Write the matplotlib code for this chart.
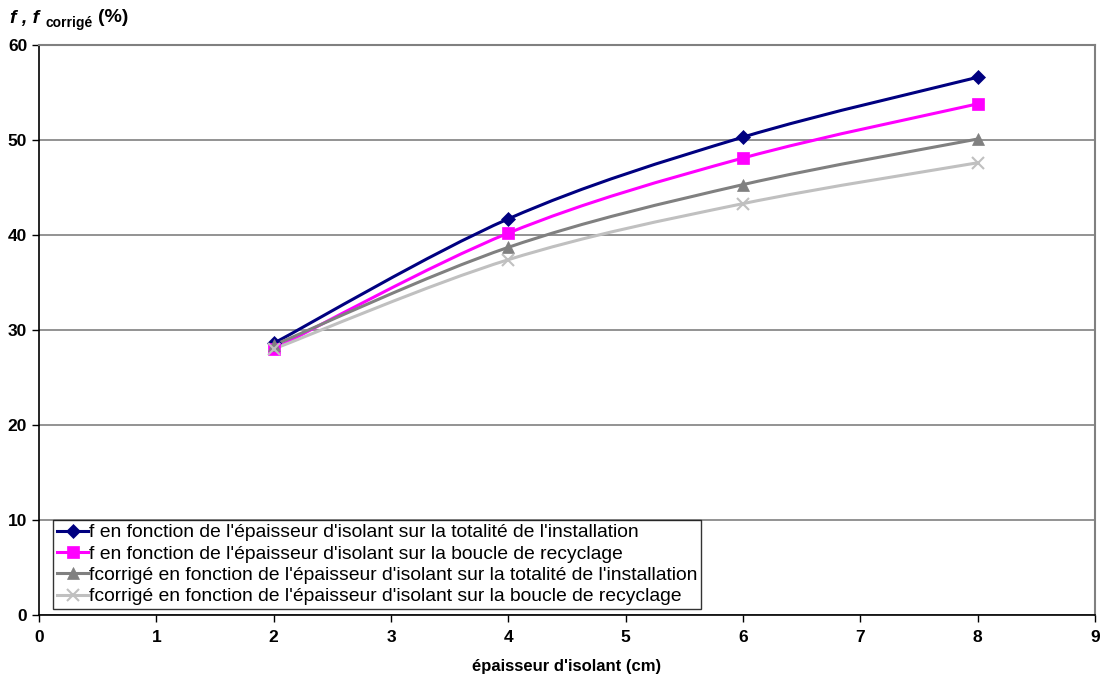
import numpy as np
import matplotlib.pyplot as plt
from matplotlib.path import Path
from matplotlib.patches import PathPatch
from matplotlib.lines import Line2D

plt.rcParams['font.family'] = ['Liberation Sans', 'DejaVu Sans']

epaisseur = [2, 4, 6, 8]
f_totalite = [28.6, 41.7, 50.3, 56.6]
f_boucle = [28.0, 40.2, 48.1, 53.8]
fcorr_totalite = [28.4, 38.7, 45.3, 50.1]
fcorr_boucle = [28.0, 37.4, 43.3, 47.6]

labels = ["f en fonction de l'épaisseur d'isolant sur la totalité de l'installation",
          "f en fonction de l'épaisseur d'isolant sur la boucle de recyclage",
          "fcorrigé en fonction de l'épaisseur d'isolant sur la totalité de l'installation",
          "fcorrigé en fonction de l'épaisseur d'isolant sur la boucle de recyclage"]
series = [f_totalite, f_boucle, fcorr_totalite, fcorr_boucle]
colors = ['#000080', '#FF00FF', '#808080', '#C0C0C0']
markers = ['D', 's', '^', 'x']
msizes = [7, 8, 8, 9]


def smooth_path(x, y):
    # Excel style smoothed line: cubic Bezier segments (Catmull-Rom like)
    pts = np.column_stack([x, y]).astype(float)
    verts = [pts[0]]
    codes = [Path.MOVETO]
    n = len(pts)
    for i in range(n - 1):
        p0 = pts[i - 1] if i > 0 else pts[i]
        p1 = pts[i]
        p2 = pts[i + 1]
        p3 = pts[i + 2] if i + 2 < n else pts[i + 1]
        c1 = p1 + (p2 - p0) / 6.0
        c2 = p2 - (p3 - p1) / 6.0
        verts += [c1, c2, p2]
        codes += [Path.CURVE4] * 3
    return Path(verts, codes)


fig = plt.figure(figsize=(11, 6.77), dpi=100)
ax = fig.add_axes([0.0355, 0.0916, 0.96, 0.842])

ax.set_xlim(0, 9)
ax.set_ylim(0, 60)
ax.set_xticks(range(0, 10))
ax.set_yticks(range(0, 70, 10))
ax.yaxis.grid(True, color='#808080', linewidth=1.2)
ax.set_axisbelow(True)

for ys, c, m, ms in zip(series, colors, markers, msizes):
    ax.add_patch(PathPatch(smooth_path(epaisseur, ys), facecolor='none',
                           edgecolor=c, linewidth=2.2, zorder=3))
    ax.plot(epaisseur, ys, linestyle='none', marker=m, color=c, markersize=ms,
            markeredgewidth=1.5 if m == 'x' else 0.5, zorder=4)

handles = [Line2D([], [], color=c, marker=m, markersize=ms, linewidth=2.2,
                  markeredgewidth=1.5 if m == 'x' else 0.5)
           for c, m, ms in zip(colors, markers, msizes)]
leg = ax.legend(handles, labels, loc='lower left', bbox_to_anchor=(0.0135, 0.01),
                fontsize=13.9, frameon=True, fancybox=False, handlelength=1.6,
                handletextpad=0.06, borderpad=0.2, labelspacing=0.2,
                borderaxespad=0)
leg.get_frame().set_edgecolor('black')
leg.get_frame().set_linewidth(1.0)

for s in ['left', 'bottom']:
    ax.spines[s].set_color('black')
    ax.spines[s].set_linewidth(1.2)
for s in ['top', 'right']:
    ax.spines[s].set_color('#808080')
    ax.spines[s].set_linewidth(1.5)

ax.tick_params(axis='both', direction='out', length=5, width=1, labelsize=12.5)
for t in ax.get_xticklabels() + ax.get_yticklabels():
    t.set_fontweight('bold')
ax.tick_params(axis='x', pad=6)

ax.set_xlabel("épaisseur d'isolant (cm)", fontsize=12, fontweight='bold', labelpad=10)

# y axis title: f, f_corrigé (%)
fig.text(10 / 1100, 1 - 18 / 677, "f , f", fontsize=14, fontstyle='italic',
         fontweight='bold', va='center', ha='left')
fig.text(46 / 1100, 1 - 23 / 677, "corrigé", fontsize=10, fontweight='bold',
         va='center', ha='left')
fig.text(98 / 1100, 1 - 18 / 677, "(%)", fontsize=14, fontweight='bold',
         va='center', ha='left')

fig.savefig('out.png', dpi=100)
